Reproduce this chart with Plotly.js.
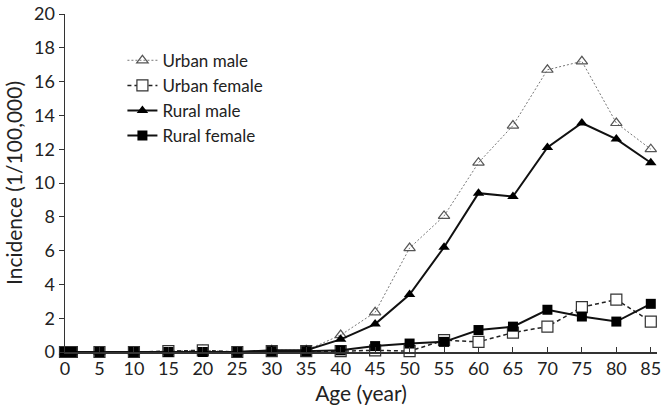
<!DOCTYPE html>
<html>
<head>
<meta charset="utf-8">
<script src="https://cdn.plot.ly/plotly-3.0.1.min.js"></script>
<style>html,body{margin:0;padding:0;background:#fff;}#chart{width:669px;height:410px;}</style>
</head>
<body>
<div id="chart"></div>
<script>
var ages = [0, 1, 5, 10, 15, 20, 25, 30, 35, 40, 45, 50, 55, 60, 65, 70, 75, 80, 85];
var urbanMale   = [0, 0, 0, 0, 0.05, 0.1, 0, 0.1, 0.1, 1.0, 2.35, 6.15, 8.05, 11.2, 13.4, 16.7, 17.2, 13.55, 12.0];
var urbanFemale = [0, 0, 0, 0, 0.05, 0.1, 0, 0.05, 0.05, 0.05, 0.1, 0.05, 0.7, 0.6, 1.15, 1.5, 2.65, 3.1, 1.8];
var ruralMale   = [0, 0, 0, 0, 0, 0, 0, 0.1, 0.1, 0.75, 1.65, 3.4, 6.2, 9.4, 9.2, 12.1, 13.55, 12.6, 11.2];
var ruralFemale = [0, 0, 0, 0, 0, 0, 0, 0.05, 0.05, 0.1, 0.35, 0.5, 0.6, 1.3, 1.5, 2.5, 2.1, 1.8, 2.85];
var seriesNames = ["Urban male", "Urban female", "Rural male", "Rural female"];
var xTicks = [0, 5, 10, 15, 20, 25, 30, 35, 40, 45, 50, 55, 60, 65, 70, 75, 80, 85];

var traces = [
  {x: ages, y: urbanMale, name: seriesNames[0], mode: "lines+markers",
   line: {color: "#777", width: 1, dash: "2px,2px"},
   marker: {symbol: "triangle-up-open", size: 10, color: "#555", line: {width: 1.2}}},
  {x: ages, y: urbanFemale, name: seriesNames[1], mode: "lines+markers",
   line: {color: "#222", width: 1.5, dash: "4px,3px"},
   marker: {symbol: "square", size: 11, color: "#fff", line: {color: "#333", width: 1.2}}},
  {x: ages, y: ruralMale, name: seriesNames[2], mode: "lines+markers",
   line: {color: "#111", width: 2},
   marker: {symbol: "triangle-up", size: 10, color: "#000"}},
  {x: ages, y: ruralFemale, name: seriesNames[3], mode: "lines+markers",
   line: {color: "#111", width: 2},
   marker: {symbol: "square", size: 10, color: "#000"}}
];
traces.forEach(function(t){ t.cliponaxis = false; });

var layout = {
  width: 669, height: 410,
  margin: {l: 65, r: 12, t: 14, b: 58},
  paper_bgcolor: "#fff", plot_bgcolor: "#fff",
  font: {family: "Lato, Open Sans, sans-serif", color: "#222", size: 18},
  xaxis: {
    range: [0, 85.9], tickvals: xTicks, ticktext: xTicks.map(String),
    showgrid: false, zeroline: false, showline: true, linecolor: "#333", linewidth: 1.5,
    ticks: "inside", ticklen: 5, tickcolor: "#333",
    tickfont: {size: 18},
    title: {text: "Age (year)", font: {size: 21}, standoff: 8}
  },
  yaxis: {
    range: [0, 20], dtick: 2,
    showgrid: false, zeroline: false, showline: true, linecolor: "#333", linewidth: 1.5,
    ticks: "outside", ticklen: 5, tickcolor: "#333",
    tickfont: {size: 18},
    title: {text: "Incidence (1/100,000)", font: {size: 21}, standoff: 5}
  },
  showlegend: true,
  legend: {x: 0.097, y: 0.915, xanchor: "left", yanchor: "top", bgcolor: "rgba(0,0,0,0)",
           font: {size: 17}, tracegroupgap: 0}
};

Plotly.newPlot("chart", traces, layout, {displayModeBar: false, staticPlot: true});
</script>
</body>
</html>
